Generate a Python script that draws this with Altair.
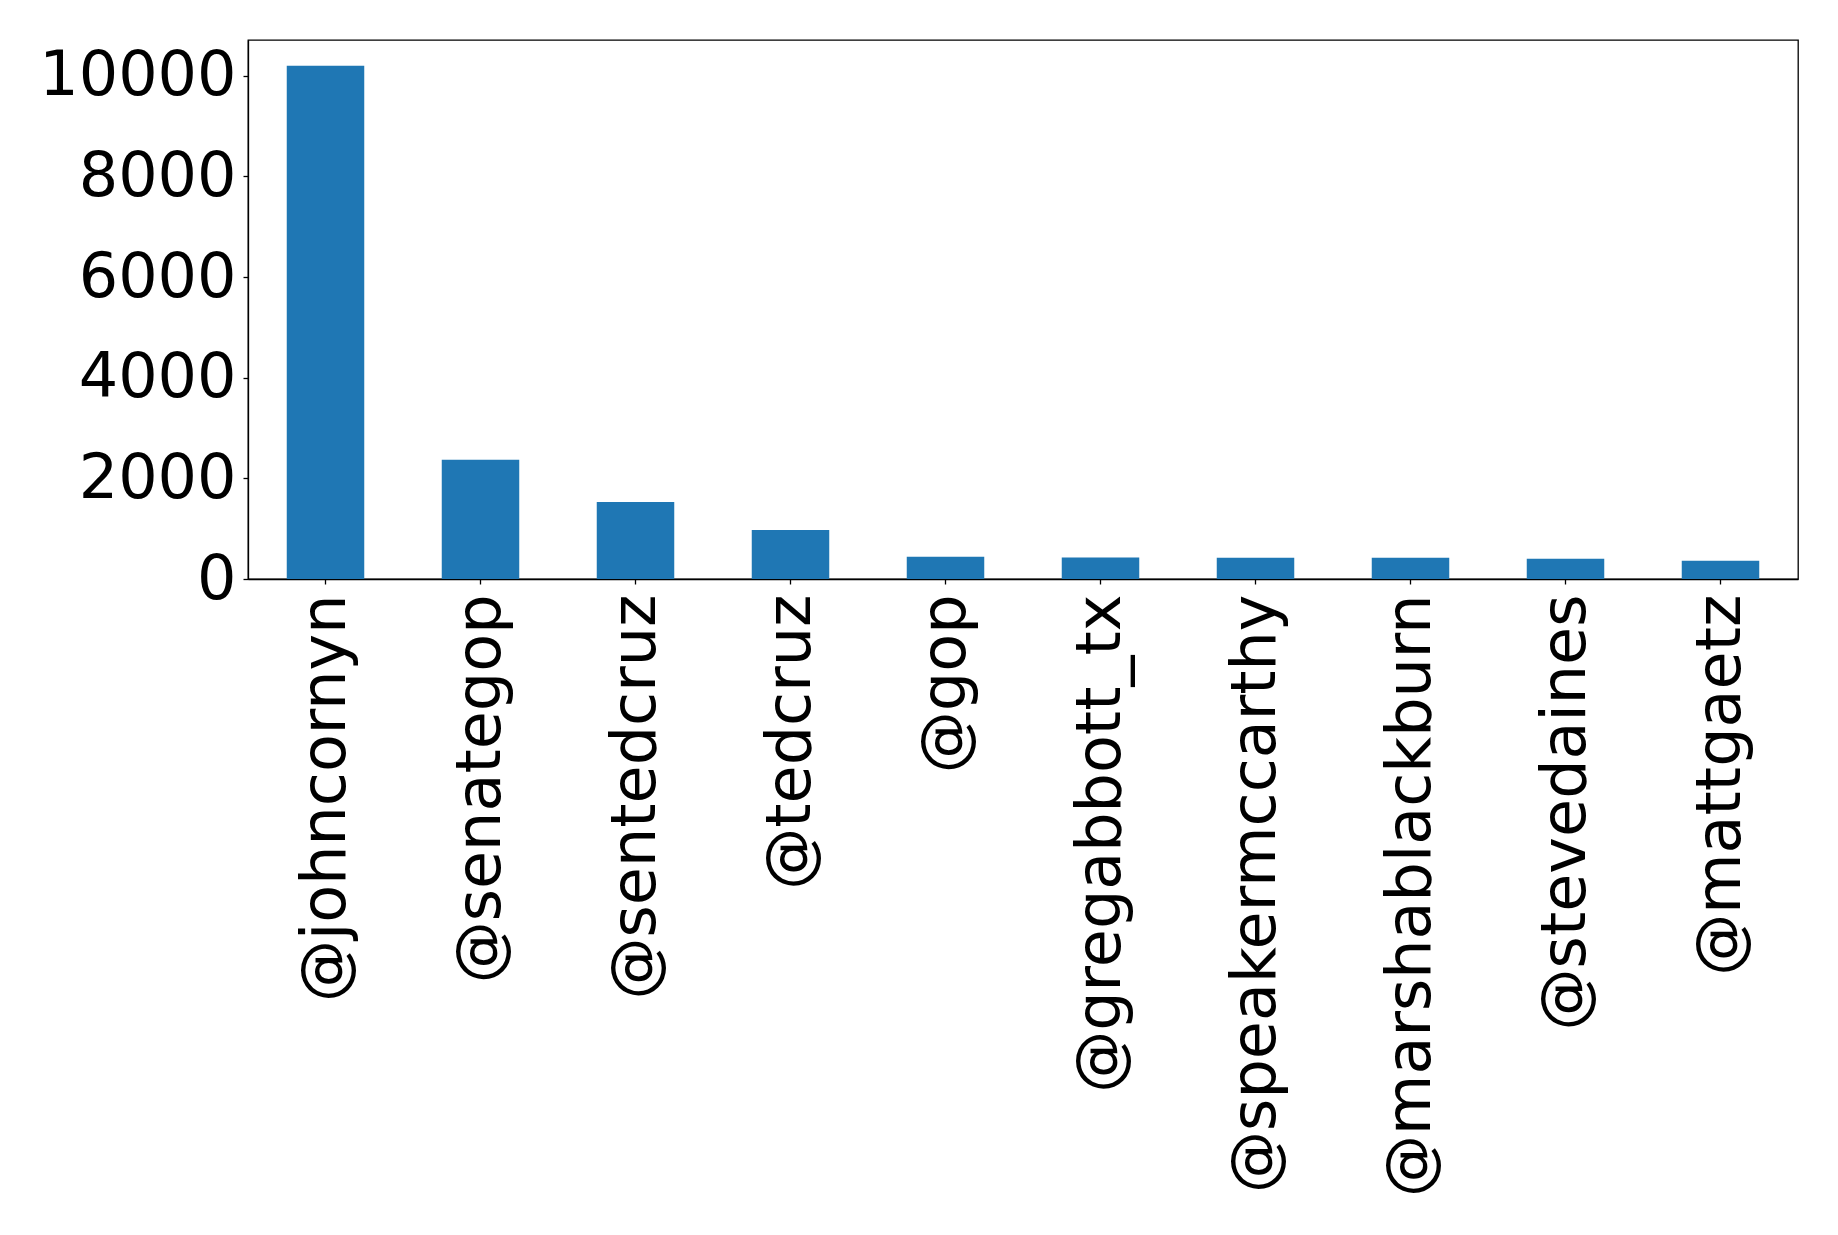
import altair as alt
import pandas as pd

handles = ["@johncornyn", "@senategop", "@sentedcruz", "@tedcruz", "@gop",
           "@gregabbott_tx", "@speakermccarthy", "@marshablackburn",
           "@stevedaines", "@mattgaetz"]
counts = [10200, 2370, 1530, 975, 440, 425, 423, 420, 400, 365]

df = pd.DataFrame({"handle": handles, "count": counts})

chart = alt.Chart(df).mark_bar(color="#1f77b4").encode(
    x=alt.X("handle:N", sort=handles, title=None,
            scale=alt.Scale(paddingInner=0.5, paddingOuter=0.25),
            axis=alt.Axis(labelAngle=270, labelFontSize=62, labelFont="DejaVu Sans",
                          labelColor="black", tickColor="black", tickSize=5,
                          tickWidth=1.3, domainColor="black", domainWidth=1.3,
                          labelPadding=10, labelLimit=1000)),
    y=alt.Y("count:Q", title=None,
            scale=alt.Scale(domain=[0, 10710], nice=False, zero=True),
            axis=alt.Axis(values=[0, 2000, 4000, 6000, 8000, 10000], labelFontSize=62,
                          labelFont="DejaVu Sans", labelColor="black",
                          tickColor="black", tickSize=5, tickWidth=1.3,
                          domainColor="black", domainWidth=1.3, grid=False,
                          labelPadding=7, format="d", labelFlush=False,
                          labelLimit=1000)),
).properties(
    width=1550, height=539,
    autosize=alt.AutoSizeParams(type="none"),
    padding={"left": 248, "top": 40, "right": 40, "bottom": 656},
    background="white",
).configure_view(
    stroke="black", strokeWidth=1.3
)

chart.save("out.html", embed_options={"renderer": "svg", "actions": False})
